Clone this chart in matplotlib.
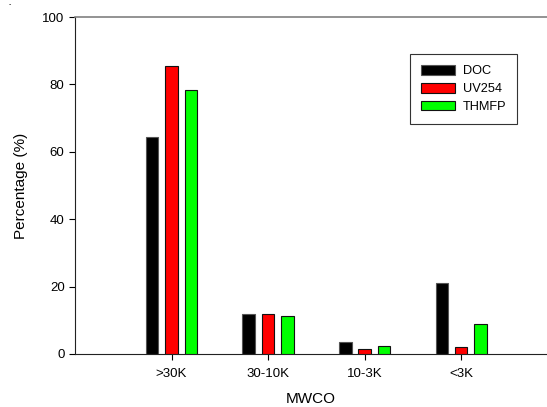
import matplotlib
matplotlib.use("Agg")
import matplotlib.pyplot as plt
import numpy as np

plt.rcParams['font.family'] = ['Liberation Sans', 'DejaVu Sans']

categories = [">30K", "30-10K", "10-3K", "<3K"]
doc = [64.5, 11.8, 3.6, 21.2]
uv254 = [85.5, 11.9, 1.4, 2.0]
thmfp = [78.2, 11.2, 2.3, 9.0]
series_names = ["DOC", "UV254", "THMFP"]
colors = ["#000000", "#ff0000", "#00ff00"]

fig = plt.figure(figsize=(5.47, 4.07), dpi=100)
ax = fig.add_axes([75/547, 1-354/407, 472/547, 337/407])

x = np.arange(len(categories))
offset = 0.2
width = 0.13
for i, (vals, name, c) in enumerate(zip([doc, uv254, thmfp], series_names, colors)):
    ax.bar(x + (i-1)*offset, vals, width, color=c, edgecolor='#111111' if i else '#555555',
           linewidth=0.8, label=name, zorder=3)

ax.set_xlim(-1.0, 3.89)
ax.set_ylim(0, 100)
ax.set_yticks(np.arange(0, 101, 20))
ax.set_xticks(x)
ax.set_xticklabels(categories, fontsize=9.5)
ax.tick_params(axis='y', labelsize=9.5, length=4, width=0.8, direction='out')
ax.tick_params(axis='x', length=4, width=0.8, direction='out', pad=6)
ax.spines['right'].set_visible(False)
ax.spines['top'].set_color('#808080')
ax.spines['top'].set_linewidth(1.2)
ax.spines['left'].set_color('#222222')
ax.spines['bottom'].set_color('#222222')
ax.set_xlabel("MWCO", fontsize=11, labelpad=8.5)
ax.set_ylabel("Percentage (%)", fontsize=11, labelpad=10)

leg = ax.legend(loc='upper right', bbox_to_anchor=(0.937, 0.889), borderaxespad=0,
                fancybox=False, fontsize=9.2, handlelength=2.7, handleheight=0.75,
                handletextpad=0.6, labelspacing=0.45, borderpad=0.85, edgecolor='#333333',
                framealpha=1)
leg.get_frame().set_linewidth(0.8)

fig.text(10/547, 1-5/407, '-', fontsize=5, ha='center', va='center')

fig.savefig("out.png", dpi=100)
